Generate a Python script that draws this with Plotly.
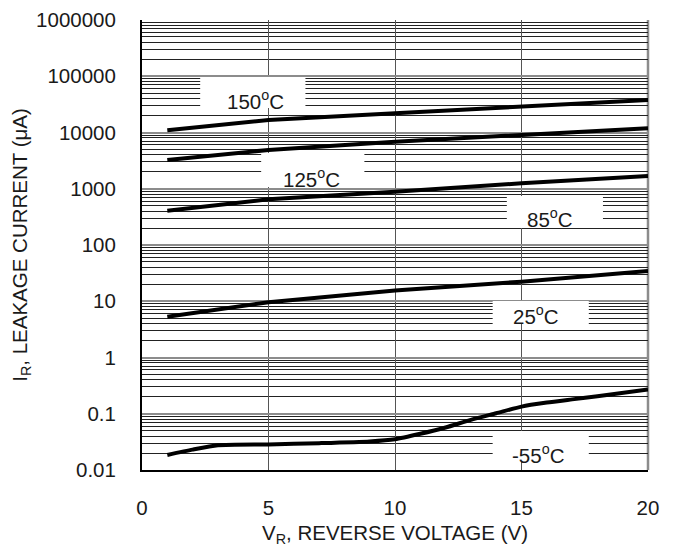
import plotly.graph_objects as go

# ---- data ----
voltage = [1, 5, 10, 15, 20]
i_150 = [11000, 16700, 21900, 28800, 38000]
i_125 = [3250, 4900, 6850, 9000, 11900]
i_85 = [405, 650, 887, 1250, 1690]
i_25 = [5.3, 9.6, 15.5, 22.3, 34.6]

voltage_m55 = [1, 2, 3, 5, 7, 9, 10, 11, 12, 13, 14, 15, 16, 17, 18, 20]
i_m55 = [0.0185, 0.023, 0.0275, 0.0285, 0.030, 0.0322, 0.0352, 0.044, 0.057,
         0.078, 0.102, 0.134, 0.158, 0.18, 0.204, 0.27]

x_ticks = [0, 5, 10, 15, 20]
y_ticks = [0.01, 0.1, 1, 10, 100, 1000, 10000, 100000, 1000000]
y_tick_text = ["0.01", "0.1", "1", "10", "100", "1000", "10000", "100000", "1000000"]

labels = ["150<sup>o</sup>C", "125<sup>o</sup>C", "85<sup>o</sup>C", "25<sup>o</sup>C", "-55<sup>o</sup>C"]
label_x = [4.48, 6.69, 16.12, 15.56, 15.66]
label_ylog = [4.578, 3.191, 2.48, 0.761, -1.716]
# white label boxes: x0, x1, y0, y1 (data units)
box_x0 = [2.30, 4.71, 14.42, 13.86, 13.86]
box_x1 = [6.46, 8.79, 18.22, 17.66, 17.66]
box_y0 = [27300, 1075, 200, 3.95, 0.01387]
box_y1 = [97000, 4330, 743, 10.1, 0.0493]

FONT = "Liberation Sans, Arial, Helvetica, sans-serif"
TXT = "#1a1a1a"
FS = 20.5

fig = go.Figure()
line = dict(color="black", width=4)
for ys in [i_150, i_125, i_85, i_25]:
    fig.add_trace(go.Scatter(x=voltage, y=ys, mode="lines", line=line,
                             showlegend=False, hoverinfo="skip"))
fig.add_trace(go.Scatter(x=voltage_m55, y=i_m55, mode="lines",
                         line=dict(color="black", width=4, shape="spline", smoothing=0.6),
                         showlegend=False, hoverinfo="skip"))

for x0, x1, y0, y1 in zip(box_x0, box_x1, box_y0, box_y1):
    fig.add_shape(type="rect", xref="x", yref="y", x0=x0, x1=x1, y0=y0, y1=y1,
                  fillcolor="white", line=dict(width=0), layer="between")

# gray right border of the plot frame
fig.add_shape(type="line", xref="paper", yref="paper", x0=1, x1=1, y0=0, y1=1,
              line=dict(color="#8c8c8c", width=2.5), layer="between")

for t, x, yl in zip(labels, label_x, label_ylog):
    fig.add_annotation(x=x, y=yl, xref="x", yref="y", text=t, showarrow=False,
                       font=dict(family=FONT, size=FS, color=TXT))

minor_vals = [k * 10.0 ** n for n in range(-2, 6) for k in range(2, 10)]

fig.update_layout(
    width=665, height=540,
    margin=dict(l=134, r=25, t=12, b=78),
    paper_bgcolor="white", plot_bgcolor="white",
    font=dict(family=FONT, size=FS, color=TXT),
    xaxis=dict(
        range=[0, 20], tickmode="array", tickvals=x_ticks,
        showgrid=True, gridcolor="#555555", gridwidth=1,
        showline=True, linecolor="black", linewidth=2,
        ticks="", ticklabelstandoff=18, zeroline=False, automargin=False,
        title=dict(text="V<sub>R</sub>, REVERSE VOLTAGE (V)", standoff=8,
                   font=dict(family=FONT, size=FS, color=TXT)),
    ),
    yaxis=dict(
        type="log", range=[-2, 6], tickmode="array", tickvals=y_ticks,
        ticktext=y_tick_text,
        showgrid=True, gridcolor="#8c8c8c", gridwidth=2,
        minor=dict(tickmode="array", tickvals=minor_vals, showgrid=True,
                   gridcolor="#222222", gridwidth=1, ticks=""),
        showline=True, linecolor="black", linewidth=2,
        ticks="", ticklabelstandoff=20, zeroline=False, automargin=False,
        title=dict(text="I<sub>R</sub>, LEAKAGE CURRENT (μA)", standoff=8,
                   font=dict(family=FONT, size=FS, color=TXT)),
    ),
)

fig.write_html("out.html")
